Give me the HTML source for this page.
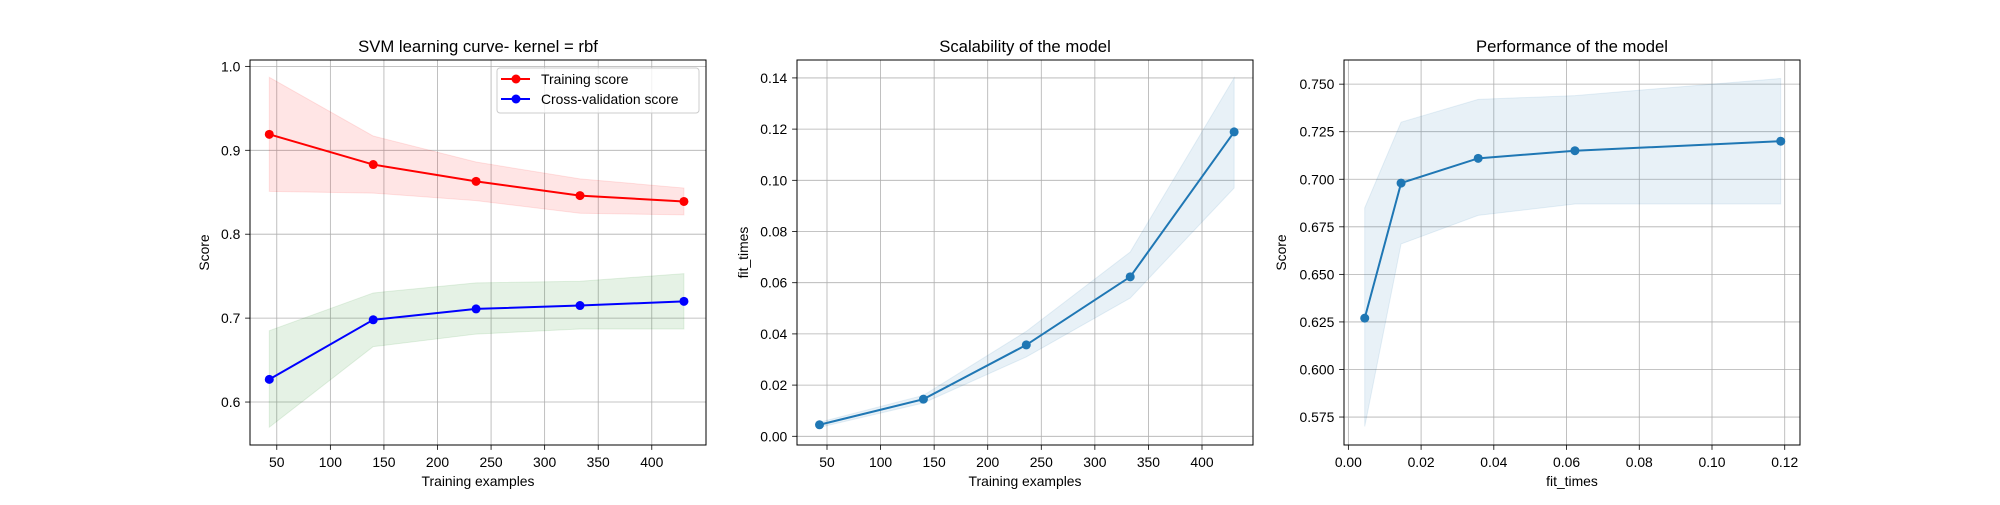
<!DOCTYPE html>
<html><head><meta charset="utf-8"><style>
body{margin:0;background:#fff}
svg text{font-family:"Liberation Sans","DejaVu Sans",sans-serif;fill:#000}
</style></head><body>
<svg id="fig" width="2000" height="500" xmlns="http://www.w3.org/2000/svg"></svg>
<script>
const trainSizes=[43,140,236,333,430];
const trainMean=[0.919,0.883,0.863,0.846,0.839];
const trainUpper=[0.987,0.917,0.886,0.866,0.855];
const trainLower=[0.851,0.849,0.840,0.825,0.823];
const cvMean=[0.627,0.698,0.711,0.715,0.720];
const cvUpper=[0.685,0.730,0.742,0.744,0.753];
const cvLower=[0.570,0.666,0.681,0.687,0.687];
const fitMean=[0.0045,0.0145,0.0357,0.0623,0.1189];
const fitUpper=[0.0055,0.016,0.041,0.072,0.140];
const fitLower=[0.0035,0.013,0.031,0.054,0.097];
const sizeTicks=[50,100,150,200,250,300,350,400];
const scoreTicks=[0.6,0.7,0.8,0.9,1.0];
const scoreTickLabels=["0.6","0.7","0.8","0.9","1.0"];
const fitTicks=[0,0.02,0.04,0.06,0.08,0.10,0.12,0.14];
const fitTickLabels=["0.00","0.02","0.04","0.06","0.08","0.10","0.12","0.14"];
const fitXTickLabels=["0.00","0.02","0.04","0.06","0.08","0.10","0.12"];
const perfTicks=[0.575,0.6,0.625,0.65,0.675,0.7,0.725,0.75];
const perfTickLabels=["0.575","0.600","0.625","0.650","0.675","0.700","0.725","0.750"];

const NS="http://www.w3.org/2000/svg";
const fig=document.getElementById('fig');
function mk(tag,attrs,parent,name){const e=document.createElementNS(NS,tag);for(const k in attrs)e.setAttribute(k,attrs[k]);


(parent||fig).appendChild(e);return e;}
function txt(s,attrs,parent,name){const e=mk('text',attrs,parent,name);e.textContent=s;return e;}

function axes(o){
  const g=mk('g',{},fig,o.name);
  const L=o.left,R=o.left+456,T=60,B=445;
  const sx=v=>L+(v-o.xmin)/(o.xmax-o.xmin)*(R-L);
  const sy=v=>B-(v-o.ymin)/(o.ymax-o.ymin)*(B-T);
  // grid
  o.xticks.forEach((t,i)=>{const x=sx(t);
    mk('line',{x1:x,x2:x,y1:T,y2:B,stroke:'#b0b0b0','stroke-width':0.8},g,'x-grid-line');
    mk('line',{x1:x,x2:x,y1:B,y2:B+4.9,stroke:'#000','stroke-width':0.8},g,'x-tick');
    txt(o.xlabels[i],{x:x,y:B+22,'font-size':13.9,'text-anchor':'middle'},g,'x-tick-label');});
  o.yticks.forEach((t,i)=>{const y=sy(t);
    mk('line',{x1:L,x2:R,y1:y,y2:y,stroke:'#b0b0b0','stroke-width':0.8},g,'y-grid-line');
    mk('line',{x1:L-4.9,x2:L,y1:y,y2:y,stroke:'#000','stroke-width':0.8},g,'y-tick');
    txt(o.ylabels[i],{x:L-9.7,y:y+5,'font-size':13.9,'text-anchor':'end'},g,'y-tick-label');});
  o.series.forEach(s=>{
    const up=s.x.map((x,i)=>sx(x)+','+sy(s.up[i]));
    const lo=s.x.map((x,i)=>sx(x)+','+sy(s.lo[i])).reverse();
    mk('polygon',{points:up.concat(lo).join(' '),fill:s.fill,'fill-opacity':0.1,stroke:s.fill,'stroke-opacity':0.1},g,s.name+'-band');
    mk('polyline',{points:s.x.map((x,i)=>sx(x)+','+sy(s.y[i])).join(' '),fill:'none',stroke:s.color,'stroke-width':2},g,s.name+'-line');
    s.x.forEach((x,i)=>mk('circle',{cx:sx(x),cy:sy(s.y[i]),r:4.5,fill:s.color},g,s.name+'-point'));
  });
  mk('rect',{x:L,y:T,width:R-L,height:B-T,fill:'none',stroke:'#000','stroke-width':1},g,'axes-frame');
  txt(o.title,{x:(L+R)/2,y:52,'font-size':16.7,'text-anchor':'middle'},g,'chart-title');
  txt(o.xtitle,{x:(L+R)/2,y:486,'font-size':13.9,'text-anchor':'middle'},g,'x-axis-title');
  txt(o.ytitle,{x:0,y:0,'font-size':13.9,'text-anchor':'middle',transform:`translate(${o.ytx},${(T+B)/2}) rotate(-90)`},g,'y-axis-title');
  return g;
}
axes({name:'learning-curve-panel',left:250,xmin:25,xmax:450.6,ymin:0.5488,ymax:1.0076,
  xticks:sizeTicks,xlabels:sizeTicks.map(String),yticks:scoreTicks,ylabels:scoreTickLabels,
  title:'SVM learning curve- kernel = rbf',xtitle:'Training examples',ytitle:'Score',ytx:209,
  series:[{name:'training-score',x:trainSizes,y:trainMean,up:trainUpper,lo:trainLower,color:'#ff0000',fill:'#ff0000'},
          {name:'cv-score',x:trainSizes,y:cvMean,up:cvUpper,lo:cvLower,color:'#0000ff',fill:'#008000'}]});
axes({name:'scalability-panel',left:797,xmin:22,xmax:447.6,ymin:-0.0034,ymax:0.147,
  xticks:sizeTicks,xlabels:sizeTicks.map(String),yticks:fitTicks,ylabels:fitTickLabels,
  title:'Scalability of the model',xtitle:'Training examples',ytitle:'fit_times',ytx:748,
  series:[{name:'fit-times',x:trainSizes,y:fitMean,up:fitUpper,lo:fitLower,color:'#1f77b4',fill:'#1f77b4'}]});
axes({name:'performance-panel',left:1344,xmin:-0.0012,xmax:0.1242,ymin:0.5603,ymax:0.7627,
  xticks:fitTicks.slice(0,7),xlabels:fitXTickLabels,yticks:perfTicks,ylabels:perfTickLabels,
  title:'Performance of the model',xtitle:'fit_times',ytitle:'Score',ytx:1286,
  series:[{name:'performance',x:fitMean,y:cvMean,up:cvUpper,lo:cvLower,color:'#1f77b4',fill:'#1f77b4'}]});
// legend
const lg=mk('g',{},fig,'legend');
mk('rect',{x:497,y:68,width:202,height:45,rx:3,fill:'#fff','fill-opacity':0.8,stroke:'#cccccc'},lg,'legend-box');
mk('line',{x1:501,x2:530,y1:79,y2:79,stroke:'#ff0000','stroke-width':2},lg,'legend-training-line');
mk('circle',{cx:516,cy:79,r:4.5,fill:'#ff0000'},lg,'legend-training-marker');
txt('Training score',{x:541,y:84,'font-size':13.9},lg,'legend-training-label');
mk('line',{x1:501,x2:530,y1:99,y2:99,stroke:'#0000ff','stroke-width':2},lg,'legend-cv-line');
mk('circle',{cx:516,cy:99,r:4.5,fill:'#0000ff'},lg,'legend-cv-marker');
txt('Cross-validation score',{x:541,y:104,'font-size':13.9},lg,'legend-cv-label');
</script>
</body></html>
